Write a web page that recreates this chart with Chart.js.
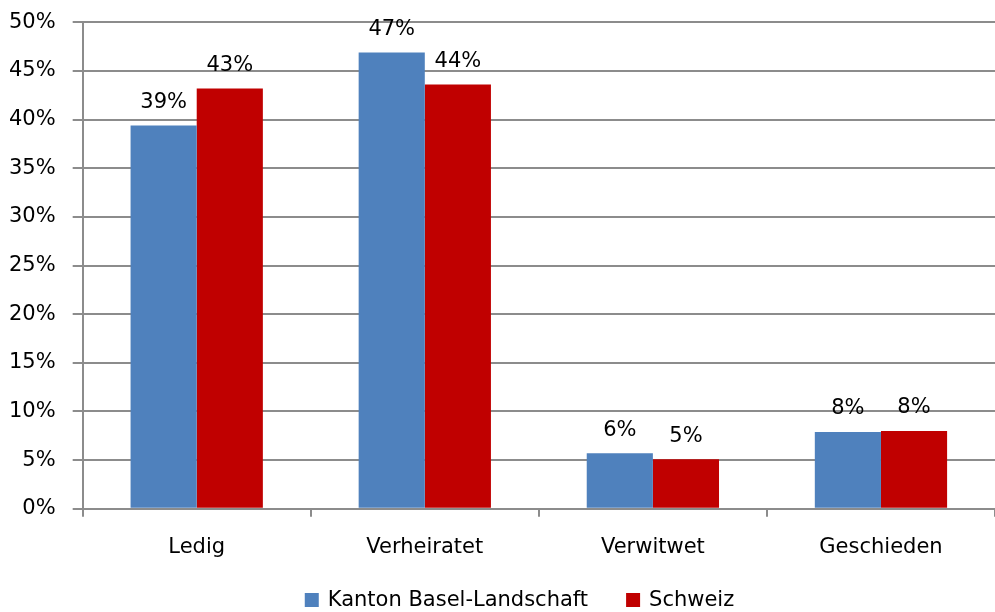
<!DOCTYPE html>
<html>
<head>
<meta charset="utf-8">
<script src="https://cdn.jsdelivr.net/npm/chart.js@4"></script>
<style>
    html, body { margin: 0; padding: 0; background: #fff; }
    #wrap { width: 995px; height: 612px; }
</style>
</head>
<body>
<div id="wrap"><canvas id="civilChart"></canvas></div>
<script>
const categories = ['Ledig', 'Verheiratet', 'Verwitwet', 'Geschieden'];
const seriesNames = ['Kanton Basel-Landschaft', 'Schweiz'];
const basellandValues = [39.4, 46.9, 5.7, 7.9];
const schweizValues = [43.2, 43.6, 5.1, 8.0];
const yTicks = [0, 5, 10, 15, 20, 25, 30, 35, 40, 45, 50];

const fontFamily = '"DejaVu Sans", sans-serif';
const fontSize = 21;

// Draw the rounded percentage above every bar
const barLabels = {
    id: 'barLabels',
    afterDatasetsDraw(chart) {
        const ctx = chart.ctx;
        ctx.save();
        ctx.font = fontSize + 'px ' + fontFamily;
        ctx.fillStyle = '#000';
        ctx.textAlign = 'center';
        ctx.textBaseline = 'middle';
        chart.data.datasets.forEach((ds, i) => {
            chart.getDatasetMeta(i).data.forEach((bar, j) => {
                ctx.fillText(Math.round(ds.data[j]) + '%', bar.x, bar.y - 23);
            });
        });
        ctx.restore();
    }
};

// Legend at the bottom, drawn by hand so the spacing can match
const bottomLegend = {
    id: 'bottomLegend',
    afterDraw(chart) {
        const ctx = chart.ctx;
        const box = 14, gapText = 9, gapItem = 38;
        ctx.save();
        ctx.font = fontSize + 'px ' + fontFamily;
        ctx.textBaseline = 'middle';
        ctx.textAlign = 'left';
        const items = chart.data.datasets.map(ds => ({
            text: ds.label,
            color: ds.backgroundColor,
            w: box + gapText + ctx.measureText(ds.label).width
        }));
        const total = items.reduce((s, it) => s + it.w, 0) + gapItem * (items.length - 1);
        let x = chart.width / 2 + 22 - total / 2;
        const y = 600;
        items.forEach(it => {
            ctx.fillStyle = it.color;
            ctx.fillRect(x, y - box / 2, box, box);
            ctx.fillStyle = '#000';
            ctx.fillText(it.text, x + box + gapText, y + 1);
            x += it.w + gapItem;
        });
        ctx.restore();
    }
};

const ctx = document.getElementById('civilChart').getContext('2d');

new Chart(ctx, {
    type: 'bar',
    data: {
        labels: categories,
        datasets: [{
            label: seriesNames[0],
            data: basellandValues,
            backgroundColor: '#4F81BD'
        }, {
            label: seriesNames[1],
            data: schweizValues,
            backgroundColor: '#C00000'
        }]
    },
    options: {
        responsive: true,
        maintainAspectRatio: false,
        animation: false,
        categoryPercentage: 0.58,
        barPercentage: 1,
        layout: {
            padding: { top: 0, left: -8, right: 0, bottom: 34 }
        },
        plugins: {
            legend: { display: false },
            tooltip: { enabled: false }
        },
        scales: {
            x: {
                grid: {
                    offset: true,
                    drawOnChartArea: false,
                    drawTicks: true,
                    tickLength: 8,
                    color: '#8c8c8c',
                    lineWidth: 2
                },
                border: { color: '#8c8c8c', width: 2 },
                ticks: {
                    color: '#000',
                    padding: 18,
                    font: { family: fontFamily, size: fontSize }
                }
            },
            y: {
                min: 0,
                max: 50,
                afterBuildTicks: (axis) => {
                    axis.ticks = yTicks.map(v => ({ value: v }));
                },
                grid: {
                    color: '#8c8c8c',
                    lineWidth: 2,
                    tickLength: 10
                },
                border: { color: '#8c8c8c', width: 2 },
                ticks: {
                    color: '#000',
                    padding: 17,
                    font: { family: fontFamily, size: fontSize, lineHeight: 0.5 },
                    callback: (v) => v + '%'
                }
            }
        }
    },
    plugins: [barLabels, bottomLegend]
});
</script>
</body>
</html>
